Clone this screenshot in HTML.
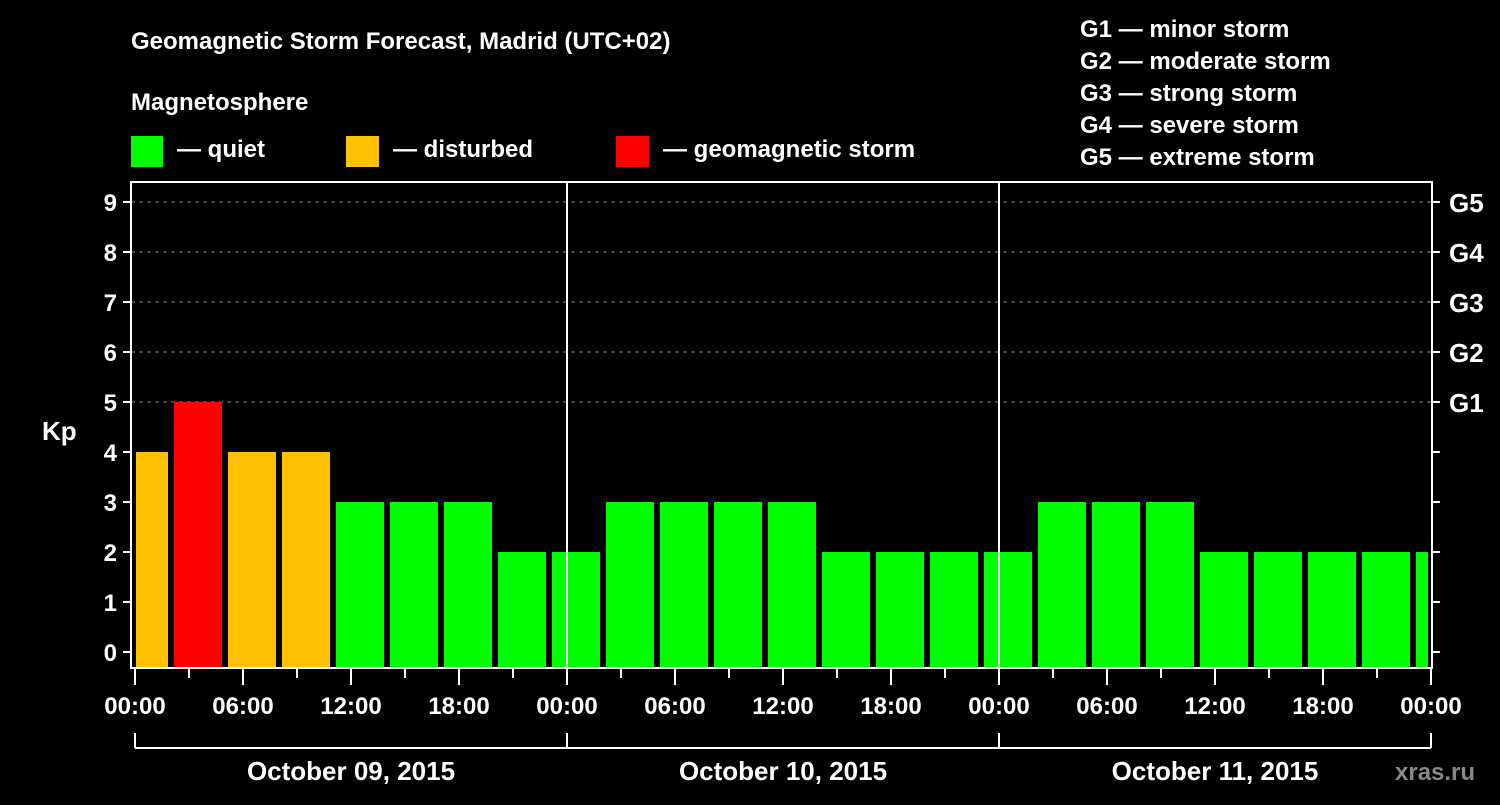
<!DOCTYPE html>
<html><head><meta charset="utf-8">
<style>
body{margin:0;background:#000;width:1500px;height:800px;overflow:hidden;font-family:"Liberation Sans",Arial,sans-serif;}
svg text{font-family:"Liberation Sans",Arial,sans-serif;font-weight:bold;fill:#fff;}
</style></head><body>
<svg id="chart" width="1500" height="800" xmlns="http://www.w3.org/2000/svg">
<text x="131" y="49" font-size="24">Geomagnetic Storm Forecast, Madrid (UTC+02)</text>
<text x="131" y="110" font-size="24">Magnetosphere</text>
<g><rect x="131" y="136" width="32" height="31" fill="#00ff00"/><text x="177" y="157" font-size="24">— quiet</text></g>
<g><rect x="346" y="136" width="33" height="31" fill="#ffc000"/><text x="393" y="157" font-size="24">— disturbed</text></g>
<g><rect x="616" y="136" width="33" height="31" fill="#ff0000"/><text x="663" y="157" font-size="24">— geomagnetic storm</text></g>
<g font-size="24">
<text x="1080" y="37">G1 — minor storm</text>
<text x="1080" y="69">G2 — moderate storm</text>
<text x="1080" y="101">G3 — strong storm</text>
<text x="1080" y="133">G4 — severe storm</text>
<text x="1080" y="165">G5 — extreme storm</text>
</g>
<g id="grid"></g>
<g id="bars"></g>
<g id="axes"></g>
<text x="42" y="440" font-size="26">Kp</text>
<text x="1395" y="780" font-size="24" fill="#888" style="fill:#888">xras.ru</text>
</svg>
<script>
const kpValues=[4,5,4,4,3,3,3,2,2,3,3,3,3,2,2,2,2,3,3,3,2,2,2,2,2];
const yTicks=[0,1,2,3,4,5,6,7,8,9];
const gLabels=["G1","G2","G3","G4","G5"];
const gLevels=[5,6,7,8,9];
const xTickLabels=["00:00","06:00","12:00","18:00","00:00","06:00","12:00","18:00","00:00","06:00","12:00","18:00","00:00"];
const dayLabels=["October 09, 2015","October 10, 2015","October 11, 2015"];
const NS="http://www.w3.org/2000/svg";
const L=131,R=1432,T=182,B=668,X0=135,PXH=18;
const y=v=>652-50*v;
const x=h=>X0+h*PXH;
function mk(tag,attrs,parent,txt){const e=document.createElementNS(NS,tag);for(const k in attrs)e.setAttribute(k,attrs[k]);if(txt!==undefined)e.textContent=txt;document.getElementById(parent).appendChild(e);return e;}
gLevels.forEach(v=>{
 const l=mk('line',{x1:L,x2:R,y1:y(v),y2:y(v),stroke:'#888','stroke-dasharray':'4,4','stroke-width':1},'grid');
 
 
});
kpValues.forEach((v,i)=>{
 let h0=i*3-0.833, h1=h0+2.667;
 let x0=Math.max(x(h0),L+5), x1=Math.min(x(h1),R-4);
 const c=v>=5?'#ff0000':(v>=4?'#ffc000':'#00ff00');
 const r=mk('rect',{x:x0,y:y(v),width:x1-x0,height:B-y(v),fill:c},'bars');
 
 
});
const fr=mk('rect',{x:L,y:T,width:R-L,height:B-T,fill:'none',stroke:'#fff','stroke-width':2},'axes');


[1,2].forEach(d=>{const l=mk('line',{x1:x(24*d),x2:x(24*d),y1:T,y2:B,stroke:'#fff','stroke-width':2},'axes');
 
 });
yTicks.forEach(v=>{
 mk('line',{x1:L-8,x2:L,y1:y(v),y2:y(v),stroke:'#fff','stroke-width':2},'axes');
 mk('line',{x1:R,x2:R+8,y1:y(v),y2:y(v),stroke:'#fff','stroke-width':2},'axes');
 const t=mk('text',{x:L-14,y:y(v)+9,'font-size':24,'text-anchor':'end'},'axes',String(v));
 
 
});
gLabels.forEach((g,i)=>{
 const t=mk('text',{x:R+17,y:y(gLevels[i])+10,'font-size':26},'axes',g);
 
 
});
for(let h=0;h<=72;h+=3){
 const major=h%6===0;
 mk('line',{x1:x(h),x2:x(h),y1:B,y2:B+(major?17:10),stroke:'#fff','stroke-width':2},'axes');
}
xTickLabels.forEach((s,i)=>{
 const t=mk('text',{x:x(i*6),y:714,'font-size':24,'text-anchor':'middle'},'axes',s);
 
 
});
mk('line',{x1:x(0),x2:x(72),y1:748,y2:748,stroke:'#fff','stroke-width':2},'axes');
[0,24,48,72].forEach(h=>mk('line',{x1:x(h),x2:x(h),y1:733,y2:748,stroke:'#fff','stroke-width':2},'axes'));
dayLabels.forEach((s,i)=>{
 const t=mk('text',{x:x(24*i+12),y:780,'font-size':26,'text-anchor':'middle'},'axes',s);
 
 
});
</script>
</body></html>
